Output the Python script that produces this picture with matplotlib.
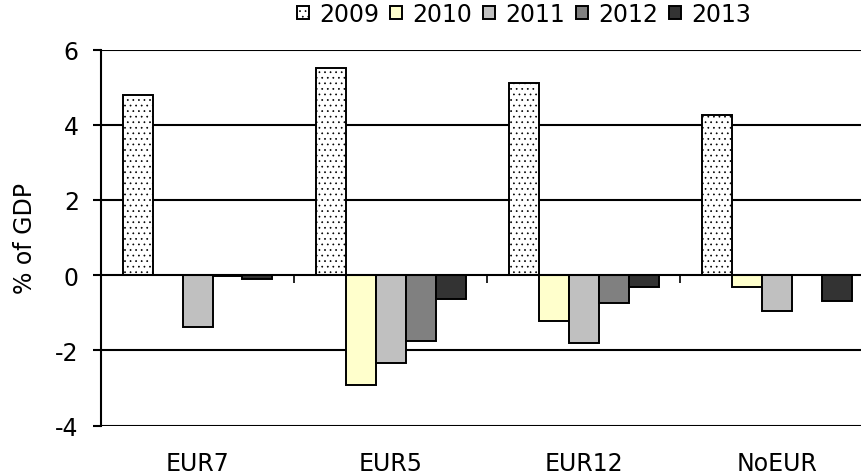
import numpy as np
import matplotlib
matplotlib.use("Agg")
import matplotlib.pyplot as plt

plt.rcParams['font.family'] = ['DejaVu Sans']
plt.rcParams['axes.unicode_minus'] = False
plt.rcParams['hatch.color'] = '#9a9a9a'
plt.rcParams['hatch.linewidth'] = 0.5

# data (% of GDP)
groups = ['EUR7', 'EUR5', 'EUR12', 'NoEUR']
years = ['2009', '2010', '2011', '2012', '2013']
v2009 = [4.8, 5.5, 5.1, 4.25]
v2010 = [0.0, -2.92, -1.22, -0.31]
v2011 = [-1.38, -2.33, -1.8, -0.96]
v2012 = [-0.03, -1.76, -0.74, 0.0]
v2013 = [-0.1, -0.64, -0.31, -0.69]
series = [v2009, v2010, v2011, v2012, v2013]

colors = ['white', '#FFFFCC', '#C0C0C0', '#808080', '#333333']
hatches = ['...', None, None, None, None]

fig = plt.figure(figsize=(8.62, 4.77), dpi=100)
# right edge of the plot runs past the picture, as in the original
ax = fig.add_axes([0.1172, 0.1055, 0.8961, 0.7886])

x = np.arange(len(groups))
w = 0.155
for i, vals in enumerate(series):
    ax.bar(x - 2 * w + i * w, vals, width=w, color=colors[i], edgecolor='black',
           linewidth=1.4, hatch=hatches[i], label=years[i], zorder=3)

ax.set_xlim(-0.5, len(groups) - 0.5)
ax.set_ylim(-4, 6)
ax.set_yticks([-4, -2, 0, 2, 4, 6])
for yv in [-4, -2, 2, 4, 6]:
    ax.axhline(yv, color='black', lw=1.5, zorder=1)

ax.spines['top'].set_visible(False)
ax.spines['right'].set_visible(False)
ax.spines['bottom'].set_position(('data', 0))
ax.spines['bottom'].set_linewidth(1.5)
ax.spines['bottom'].set_zorder(4)
ax.spines['left'].set_linewidth(1.5)

ax.set_xticks(np.arange(len(groups) + 1) - 0.5)
ax.set_xticklabels([])
ax.tick_params(axis='x', direction='out', length=6, width=1.2)
ax.tick_params(axis='y', direction='out', length=6, width=1.5, pad=10, labelsize=17)

for xi, g in zip(x, groups):
    ax.annotate(g, xy=(xi, -4), xytext=(0, -27), textcoords='offset points',
                ha='center', va='center', fontsize=17)

ax.set_ylabel('% of GDP', fontsize=17)
ax.yaxis.set_label_coords(-0.083, 0.5)

fig.legend(loc='center', bbox_to_anchor=(0.608, 0.969), ncol=5, frameon=False,
           fontsize=17, handlelength=0.5, handleheight=0.5, handletextpad=0.45,
           columnspacing=0.45, borderpad=0)

fig.savefig('out.png', dpi=100)
